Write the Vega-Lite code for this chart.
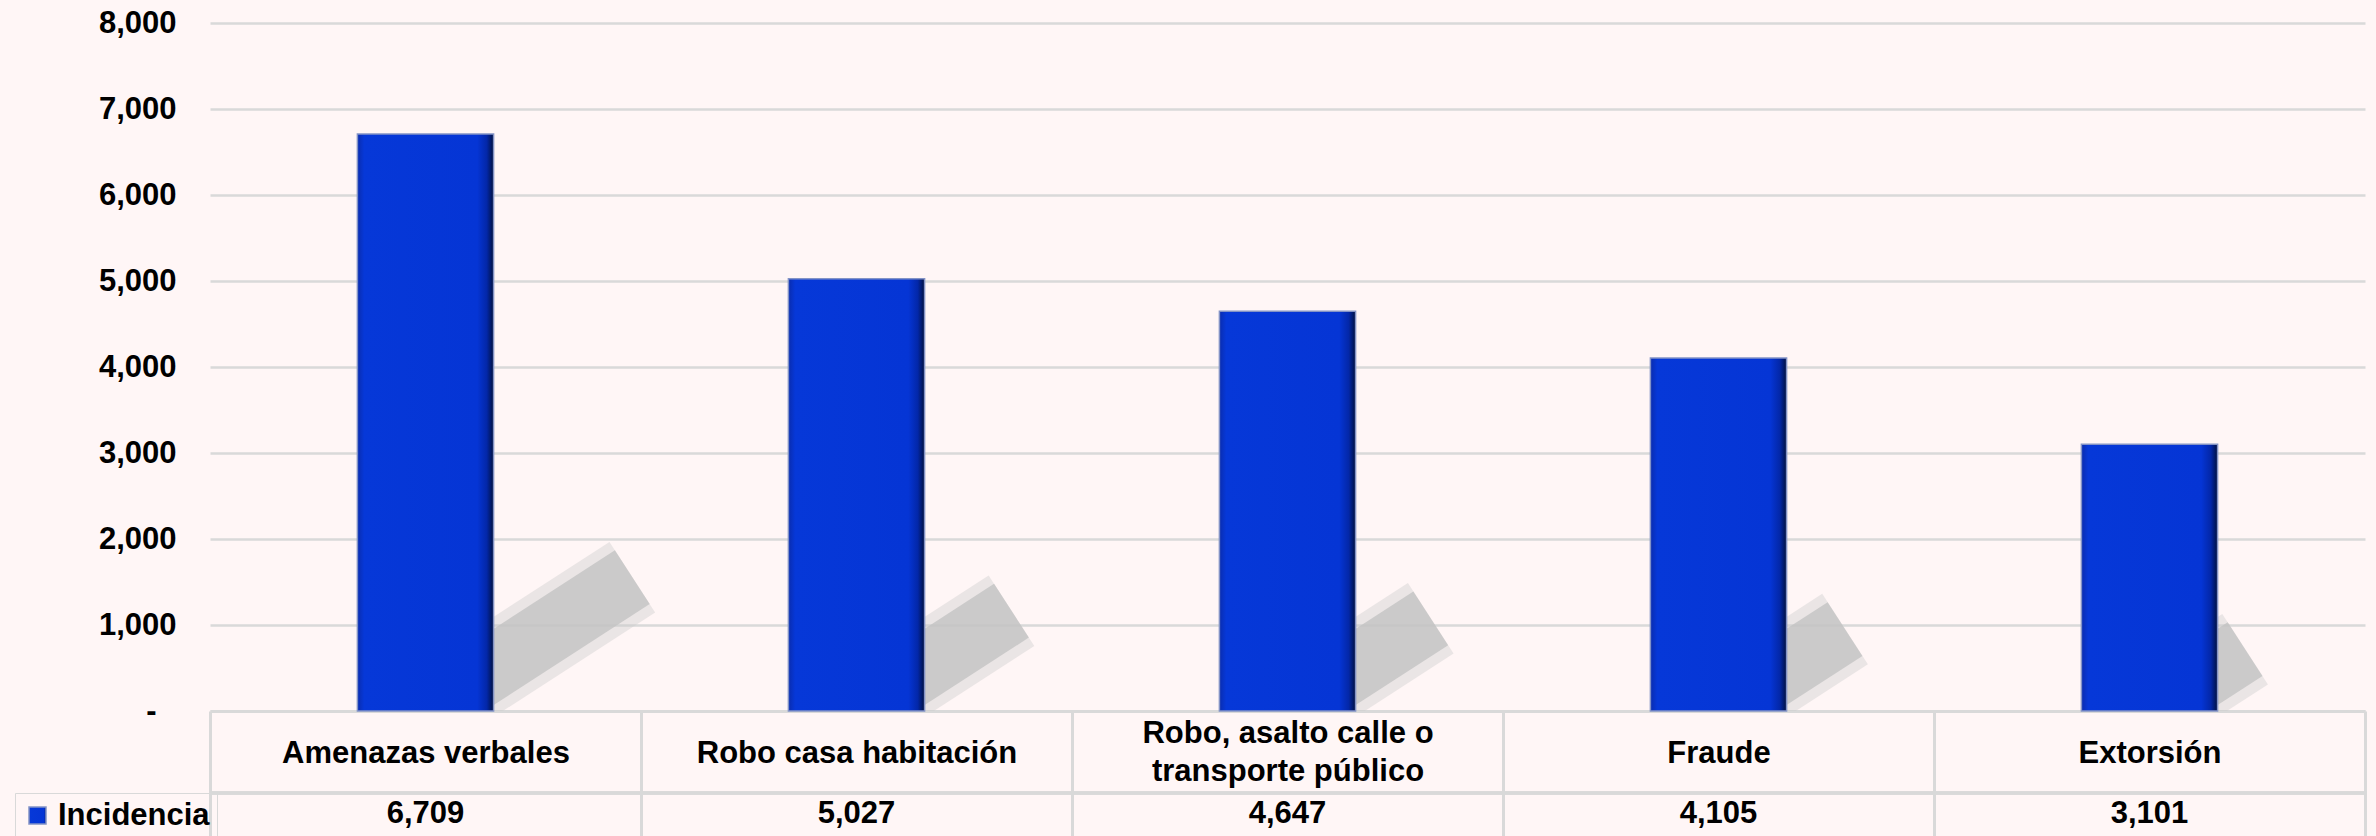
{
  "$schema": "https://vega.github.io/schema/vega-lite/v6.json",
  "width": 2155,
  "height": 688,
  "autosize": {"type": "none"},
  "padding": {"left": 210, "top": 23, "right": 11, "bottom": 125},
  "background": "#fff6f6",
  "config": {
    "view": {"stroke": null},
    "font": "Liberation Sans",
    "axis": {"labelFont": "Liberation Sans", "labelFontWeight": "bold", "labelFontSize": 31, "labelColor": "#000000"}
  },
  "data": {
    "values": [
      {"delito": "Amenazas verbales", "serie": "Incidencia", "valor": 6709},
      {"delito": "Robo casa habitación", "serie": "Incidencia", "valor": 5027},
      {"delito": "Robo, asalto calle o transporte público", "serie": "Incidencia", "valor": 4647},
      {"delito": "Fraude", "serie": "Incidencia", "valor": 4105},
      {"delito": "Extorsión", "serie": "Incidencia", "valor": 3101}
    ]
  },
  "layer": [
    {
      "mark": {"type": "point", "shape": "M0,0L1.545,-1", "filled": false, "stroke": "#cccccc", "strokeWidth": 84, "strokeCap": "butt", "opacity": 0.4, "clip": true},
      "encoding": {
        "x": {"field": "delito", "type": "nominal", "sort": null, "scale": {"paddingInner": 0, "paddingOuter": 0},
          "axis": {
            "title": null, "orient": "bottom", "labelAngle": 0,
            "domainColor": "#d9d9d9", "domainWidth": 3,
            "tickBand": "extent", "tickSize": 125, "tickColor": "#d9d9d9", "tickWidth": 3,
            "labelPadding": {"condition": {"test": "datum.label == 'Robo, asalto calle o transporte público'", "value": -103}, "value": -83},
            "labelBaseline": "middle", "labelLineHeight": 38, "labelLimit": 0,
            "labelOverlap": false, "labelFlush": false,
            "labelExpr": "datum.label == 'Robo, asalto calle o transporte público' ? ['Robo, asalto calle o', 'transporte público'] : datum.label"
          }},
        "y": {"datum": 0, "type": "quantitative"},
        "size": {"field": "valor", "type": "quantitative", "scale": {"type": "pow", "exponent": 2, "domain": [0, 8000], "range": [0, 101889]}, "legend": null}
      }
    },
    {
      "mark": {"type": "point", "shape": "M0,0L1.545,-1", "filled": false, "stroke": "#c4c4c4", "strokeWidth": 64, "strokeCap": "butt", "opacity": 0.8, "clip": true},
      "encoding": {
        "x": {"field": "delito", "type": "nominal", "sort": null},
        "y": {"datum": 0, "type": "quantitative"},
        "size": {"field": "valor", "type": "quantitative", "legend": null}
      }
    },
    {
      "mark": {
        "type": "bar", "width": {"band": 0.316}, "strokeWidth": 1.5,
        "fill": {"gradient": "linear", "x1": 0, "x2": 1, "y1": 0, "y2": 0,
          "stops": [
            {"offset": 0, "color": "#0a2cae"},
            {"offset": 0.05, "color": "#0638d8"},
            {"offset": 0.88, "color": "#0535d5"},
            {"offset": 0.95, "color": "#0327a8"},
            {"offset": 1, "color": "#00103f"}
          ]}
      },
      "encoding": {
        "x": {"field": "delito", "type": "nominal", "sort": null},
        "y": {"field": "valor", "type": "quantitative",
          "scale": {"domain": [0, 8000]},
          "axis": {
            "title": null, "values": [0, 1000, 2000, 3000, 4000, 5000, 6000, 7000, 8000],
            "ticks": false, "domain": false,
            "labelPadding": {"condition": {"test": "datum.value == 0", "value": 54}, "value": 34},
            "grid": true, "gridColor": "#d9d9d9", "gridWidth": 2.5,
            "labelExpr": "datum.value == 0 ? '-' : format(datum.value, ',')"
          }},
        "stroke": {"field": "serie", "type": "nominal", "scale": {"range": ["#8393c6"]},
          "legend": {
            "title": null, "orient": "none", "legendX": -195, "legendY": 770,
            "padding": 7, "strokeColor": "#d9d9d9",
            "symbolType": "square", "symbolSize": 289, "labelOffset": 5,
            "labelFont": "Liberation Sans", "labelFontSize": 31, "labelFontWeight": "bold", "labelColor": "#000000",
            "encode": {
              "legend": {"update": {"strokeWidth": {"value": 3}}},
              "symbols": {"update": {"fill": {"value": "#0535d5"}, "stroke": {"value": "#0a2480"}, "strokeWidth": {"value": 1.5}, "shape": {"value": "square"}, "opacity": {"value": 1}}}
            }
          }}
      }
    },
    {
      "mark": {"type": "text", "dy": 103, "font": "Liberation Sans", "fontWeight": "bold", "fontSize": 31, "color": "#000000", "baseline": "middle"},
      "encoding": {
        "x": {"field": "delito", "type": "nominal", "sort": null},
        "y": {"datum": 0, "type": "quantitative"},
        "text": {"field": "valor", "type": "quantitative", "format": ","}
      }
    },
    {
      "mark": {"type": "rule", "color": "#d9d9d9", "strokeWidth": 3, "yOffset": 82},
      "encoding": {
        "y": {"datum": 0, "type": "quantitative"}
      }
    }
  ]
}
